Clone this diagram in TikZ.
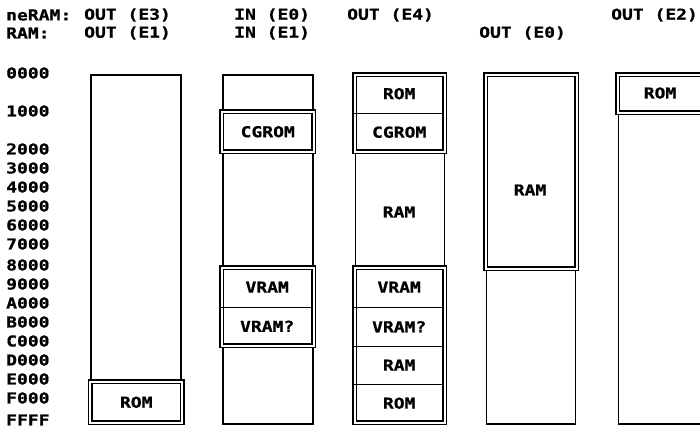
\documentclass[tikz,border=0pt]{standalone}
\usepackage{fontspec}
\newfontfamily\lblfont[FakeStretch=1.2, BoldFeatures={FakeBold=0.8}]{DejaVu Sans Mono}
\begin{document}
\begin{tikzpicture}[x=1pt,y=-1pt,
  col/.style={draw, line width=1.8pt, rectangle, inner sep=0pt, anchor=north west},
  dbox/.style={draw, double, double distance=1.6pt, line width=1.5pt, rectangle, inner sep=0pt, anchor=north west},
  seg/.style={rectangle, inner sep=0pt, anchor=north west},
  divider/.style={line width=1.2pt},
  lab/.style={font=\lblfont\bfseries\fontsize{15}{16}\selectfont, inner sep=0pt},
  hdr/.style={lab, anchor=west}]
\useasboundingbox (0,0) rectangle (700,428);
\clip (0,0) rectangle (700,428);

% header
\node[hdr] (h1a) at (6,15) {neRAM:};
\node[hdr] (h1b) at (6,33) {RAM:};
\node[hdr] (h2a) at (84,15) {OUT (E3)};
\node[hdr] (h2b) at (84,33) {OUT (E1)};
\node[hdr] (h3a) at (234,15) {IN (E0)};
\node[hdr] (h3b) at (234,33) {IN (E1)};
\node[hdr] (h4a) at (347,15) {OUT (E4)};
\node[hdr] (h5b) at (479,33) {OUT (E0)};
\node[hdr] (h6a) at (611,15) {OUT (E2)};

% addresses
\foreach \t/\y [count=\i] in {0000/73,1000/111,2000/149,3000/168,4000/187,5000/206,6000/225,7000/244,8000/265,9000/284,A000/303,B000/322,C000/341,D000/360,E000/379,F000/398,FFFF/420}
  \node[hdr] (ad\i) at (6,\y) {\t};

% column 1
\node[col, minimum width=90pt, minimum height=348pt] (c1) at (90,74) {};
\node[dbox, minimum width=92pt, minimum height=41pt] (c1rom) at (89.5,381) {};
\node[lab] (l1rom) at (c1rom.center) {ROM};

% column 2
\node[col, minimum width=90pt, minimum height=349pt] (c2) at (222,74) {};
\node[dbox, minimum width=92pt, minimum height=40pt] (c2cg) at (221,111) {};
\node[lab] (l2cg) at (c2cg.center) {CGROM};
\node[dbox, minimum width=92pt, minimum height=78pt] (c2v) at (221,267) {};
\node[seg, minimum width=92pt, minimum height=40pt] (c2va) at (221,267) {};
\node[seg, minimum width=92pt, minimum height=38pt] (c2vb) at (221,307) {};
\draw[divider] (c2va.south west) -- (c2va.south east);
\node[lab] (l2va) at (c2va.center) {VRAM};
\node[lab] (l2vb) at (c2vb.center) {VRAM?};

% column 3
\node[col, minimum width=89pt, minimum height=349pt] (c3) at (354.5,74) {};
\node[dbox, minimum width=90pt, minimum height=77pt] (c3t) at (354,74) {};
\node[seg, minimum width=90pt, minimum height=39pt] (c3rom) at (354,74) {};
\node[seg, minimum width=90pt, minimum height=38pt] (c3cg) at (354,113) {};
\draw[divider] (c3rom.south west) -- (c3rom.south east);
\node[lab] (l3rom) at (c3rom.center) {ROM};
\node[lab] (l3cg) at (c3cg.center) {CGROM};
\node[lab] (l3ram) at (399,212) {RAM};
\node[dbox, minimum width=90pt, minimum height=155pt] (c3b) at (354,267) {};
\node[seg, minimum width=90pt, minimum height=40pt] (c3va) at (354,267) {};
\node[seg, minimum width=90pt, minimum height=39pt] (c3vb) at (354,307) {};
\node[seg, minimum width=90pt, minimum height=38pt] (c3r) at (354,346) {};
\node[seg, minimum width=90pt, minimum height=38pt] (c3o) at (354,384) {};
\draw[divider] (c3va.south west) -- (c3va.south east);
\draw[divider] (c3vb.south west) -- (c3vb.south east);
\draw[divider] (c3r.south west) -- (c3r.south east);
\node[lab] (l3va) at (c3va.center) {VRAM};
\node[lab] (l3vb) at (c3vb.center) {VRAM?};
\node[lab] (l3r) at (c3r.center) {RAM};
\node[lab] (l3o) at (c3o.center) {ROM};

% column 4
\node[col, minimum width=89pt, minimum height=349pt] (c4) at (485.5,74) {};
\node[dbox, minimum width=91pt, minimum height=194pt] (c4r) at (485,74) {};
\node[lab] (l4r) at (530,190) {RAM};

% column 5
\node[col, minimum width=100pt, minimum height=349pt] (c5) at (617.5,74) {};
\node[dbox, minimum width=100pt, minimum height=38pt] (c5r) at (617,74) {};
\node[lab] (l5r) at (660,93) {ROM};
\end{tikzpicture}
\end{document}
